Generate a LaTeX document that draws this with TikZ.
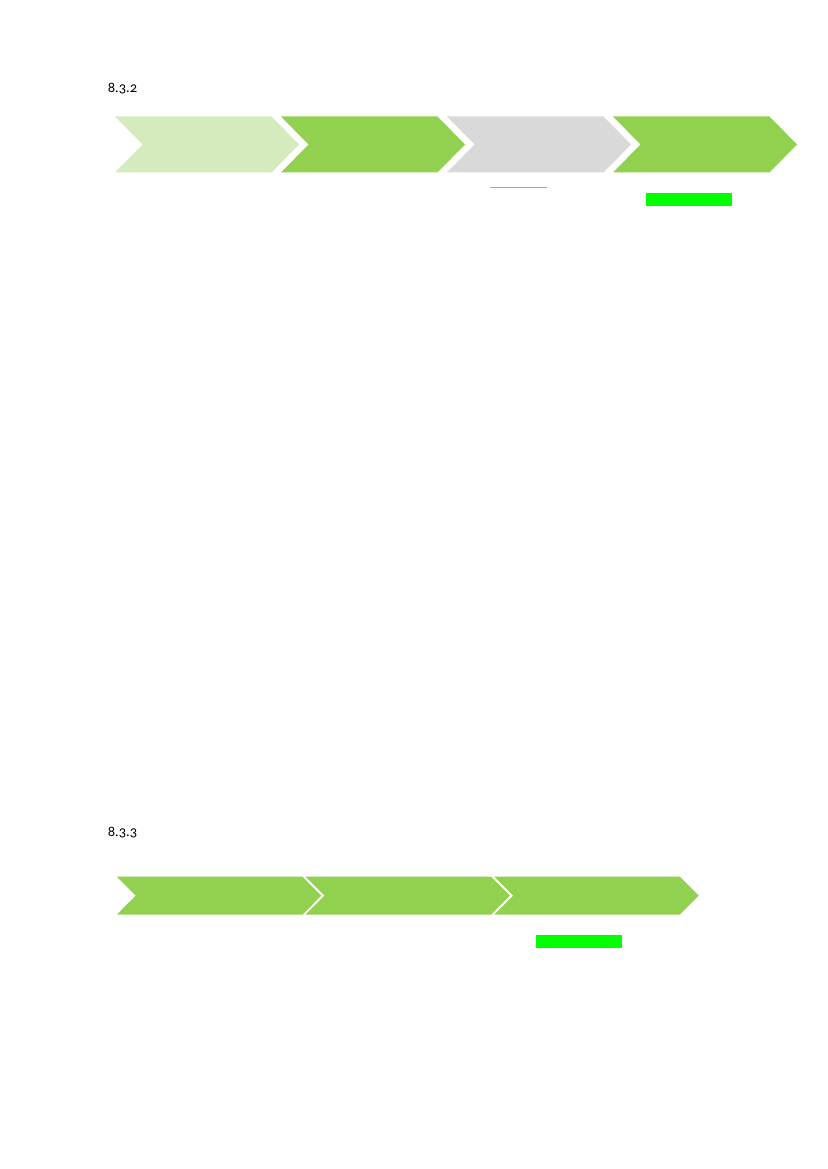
\documentclass[tikz,border=0pt]{standalone}
\usepackage{fontspec}
\setmainfont{Carlito}[Numbers=OldStyle]
\definecolor{palegreen}{HTML}{D5EBBD}
\definecolor{leafgreen}{HTML}{92D050}
\definecolor{stepgray}{HTML}{D9D9D9}
\definecolor{markgreen}{HTML}{00FF00}
\definecolor{rulegray}{HTML}{A6A6A6}
\tikzset{
  secnum/.style={anchor=west, inner sep=0pt, font=\fontsize{10.5}{12}\selectfont},
  chevfill/.style={fill=#1, draw=none},
  chevline/.style={fill=#1, draw=white, line width=1pt}
}
% chevron: left x, top y, bottom y, width, depth, style
\newcommand{\chevshape}[6]{%
  \path[#6] (#1,#2) -- ({#1+#4-#5},#2) -- ({#1+#4},{(#2+#3)/2}) -- ({#1+#4-#5},#3)
    -- (#1,#3) -- ({#1+#5},{(#2+#3)/2}) -- cycle;}
\begin{document}
\begin{tikzpicture}[x=0.254mm, y=-0.254mm]
        \useasboundingbox (0,0) rectangle (827,1169);

        % 8.3.2
        \node[secnum] (num832) at (107.5,89) {8.3.2};

        \chevshape{115}{116.5}{172.5}{184}{27.5}{chevfill=palegreen}
        \chevshape{281}{116.5}{172.5}{184}{27.5}{chevfill=leafgreen}
        \chevshape{447}{116.5}{172.5}{184}{27.5}{chevfill=stepgray}
        \chevshape{613}{116.5}{172.5}{184}{27.5}{chevfill=leafgreen}

        \draw[rulegray, line width=0.8pt] (490,187.7) -- (547,187.7);
        \fill[markgreen] (646,193.5) rectangle (732,205.8);

        % 8.3.3
        \node[secnum] (num833) at (107.5,833) {8.3.3};

        \chevshape{115}{876}{915.3}{207.5}{19.5}{chevline=leafgreen}
        \chevshape{303.7}{876}{915.3}{207.5}{19.5}{chevline=leafgreen}
        \chevshape{492.4}{876}{915.3}{207.5}{19.5}{chevline=leafgreen}

        \fill[markgreen] (535.5,935.3) rectangle (621.5,947.5);
\end{tikzpicture}
\end{document}
